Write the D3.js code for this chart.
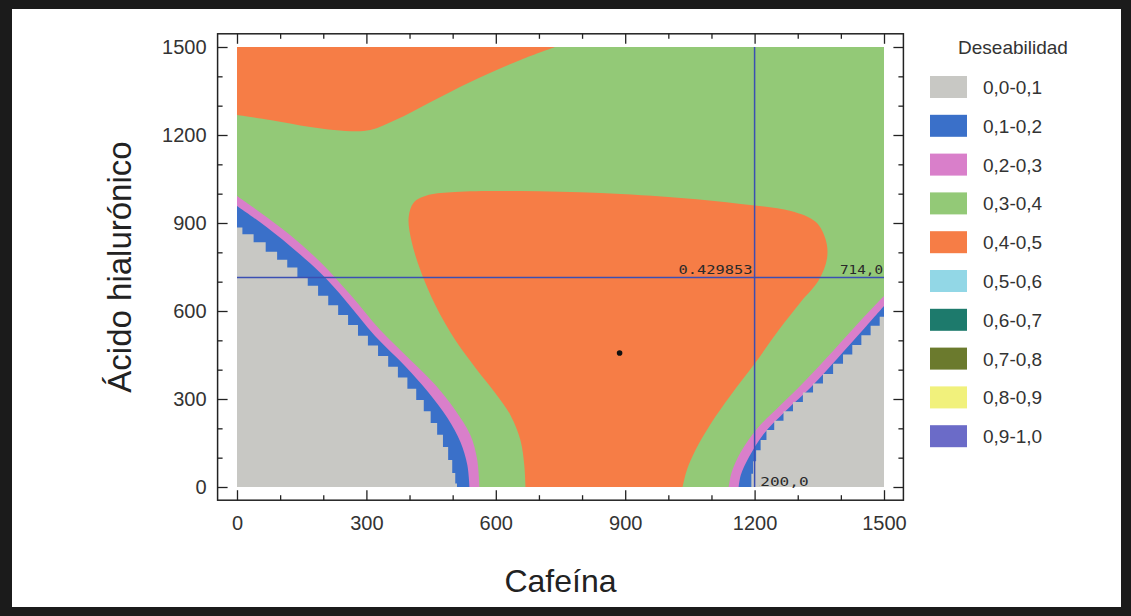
<!DOCTYPE html>
<html>
<head>
<meta charset="utf-8">
<script src="https://cdn.jsdelivr.net/npm/d3@7"></script>
<style>
  body { margin: 0; background: #fff; }
  svg { display: block; }
</style>
</head>
<body>
<div id="grafico"></div>
<script>
// legend ranges and their colours
var rangos = ["0,0-0,1", "0,1-0,2", "0,2-0,3", "0,3-0,4", "0,4-0,5",
              "0,5-0,6", "0,6-0,7", "0,7-0,8", "0,8-0,9", "0,9-1,0"];
var colores = ["#c8c8c4", "#3a70c9", "#d97fca", "#93c977", "#f67d46",
               "#92d7e6", "#1d7a6c", "#6b7a2d", "#f1f17c", "#6b6bc8"];

var ticksEje = [0, 300, 600, 900, 1200, 1500];
var ticksMenores = [100, 200, 400, 500, 700, 800, 1000, 1100, 1300, 1400];

// contour outlines, as [Cafeína, Ácido hialurónico]
var naranjaSup = [[0, 1268], [77, 1251], [170, 1227], [251, 1214], [309, 1217],
  [367, 1251], [448, 1312], [541, 1381], [657, 1456], [738, 1500]];
var naranjaSupCierre = [[0, 1500]];

var naranjaCentro = [[669, 0], [666, 75], [657, 160], [634, 245], [599, 320],
  [553, 406], [506, 501], [460, 620], [425, 740], [404, 842], [398, 920],
  [410, 970], [445, 996], [506, 1006], [657, 1009], [843, 1002], [1029, 985],
  [1168, 965], [1284, 941], [1342, 903], [1365, 842], [1368, 781], [1349, 706],
  [1307, 631], [1256, 535], [1203, 426], [1145, 314], [1098, 215], [1063, 126],
  [1043, 58], [1033, 0]];

var rosaIzq = [[0, 992], [53, 937], [123, 859], [193, 767], [263, 655], [332, 535],
  [402, 433], [460, 348], [506, 262], [541, 177], [557, 92], [562, 0]];
var azulIzq = [[0, 958], [53, 903], [123, 822], [193, 730], [251, 637], [320, 515],
  [390, 412], [443, 324], [488, 235], [518, 153], [534, 75], [539, 0]];
var grisIzq = [[0, 885], [25, 862], [52, 834], [81, 802], [105, 775], [128, 748],
  [152, 716], [176, 686], [200, 652], [223, 620], [246, 586], [269, 552],
  [292, 516], [315, 482], [339, 447], [362, 410], [384, 373], [406, 335],
  [425, 297], [441, 258], [457, 218], [471, 178], [484, 136], [495, 92],
  [503, 48], [509, 12], [511, 0]];
var esquinaIzq = [[0, 0]];

var rosaDer = [[1500, 651], [1447, 569], [1384, 467], [1319, 365], [1261, 280],
  [1207, 201], [1168, 119], [1147, 51], [1140, 0]];
var azulDer = [[1500, 617], [1451, 535], [1393, 440], [1331, 341], [1272, 259],
  [1221, 181], [1187, 102], [1168, 41], [1163, 0]];
var grisDer = [[1500, 580], [1480, 550], [1458, 517], [1437, 484], [1416, 452],
  [1394, 420], [1370, 385], [1347, 353], [1324, 322], [1300, 290], [1278, 258],
  [1256, 226], [1235, 194], [1220, 160], [1208, 125], [1199, 88], [1194, 45],
  [1191, 0]];
var esquinaDer = [[1500, 0]];

// crosshair and optimum point
var cruzX = 1200, cruzY = 714, cruzValor = "0.429853";
var puntoOptimo = [887, 457];

var width = 1131, height = 616;

var x = d3.scaleLinear().domain([0, 1500]).range([237, 884]);
var y = d3.scaleLinear().domain([0, 1500]).range([487, 47]);
var color = d3.scaleOrdinal().domain(rangos).range(colores);

var svg = d3.select("#grafico")
  .append("svg")
    .attr("width", width)
    .attr("height", height)
    .style("font-family", "'Liberation Sans', Arial, sans-serif");

// dark frame around the figure
svg.append("rect").attr("width", width).attr("height", height).attr("fill", "#1b1b1b");
svg.append("rect").attr("x", 12).attr("y", 9).attr("width", 1109).attr("height", 598).attr("fill", "#fff");

svg.append("clipPath").attr("id", "zona")
  .append("rect")
    .attr("x", x(0)).attr("y", y(1500))
    .attr("width", x(1500) - x(0)).attr("height", y(0) - y(1500));

// the 1200,0 label is hidden left of the vertical line
svg.append("clipPath").attr("id", "corte")
  .append("rect")
    .attr("x", x(cruzX) + 5).attr("y", 0)
    .attr("width", width).attr("height", height);

var capa = svg.append("g").attr("clip-path", "url(#zona)");

function region(puntos, cierre, curva) {
  var linea = d3.line()
    .x(function(d) { return x(d[0]); })
    .y(function(d) { return y(d[1]); })
    .curve(curva);
  return linea(puntos) + cierre.map(function(d) { return "L" + x(d[0]) + "," + y(d[1]); }).join("") + "Z";
}

// background band 0,3-0,4
capa.append("rect")
  .attr("x", x(0)).attr("y", y(1500))
  .attr("width", x(1500) - x(0)).attr("height", y(0) - y(1500))
  .attr("fill", color("0,3-0,4"));

var suave = d3.curveCatmullRom;
var capas = [
  [naranjaSup, naranjaSupCierre, "0,4-0,5", suave],
  [naranjaCentro, [], "0,4-0,5", suave],
  [rosaIzq, esquinaIzq, "0,2-0,3", suave],
  [azulIzq, esquinaIzq, "0,1-0,2", suave],
  [grisIzq, esquinaIzq, "0,0-0,1", d3.curveStep],
  [rosaDer, esquinaDer, "0,2-0,3", suave],
  [azulDer, esquinaDer, "0,1-0,2", suave],
  [grisDer, esquinaDer, "0,0-0,1", d3.curveStep]
];

capa.selectAll("path.contorno")
  .data(capas)
  .enter()
  .append("path")
    .attr("class", "contorno")
    .attr("d", function(d) { return region(d[0], d[1], d[3]); })
    .attr("fill", function(d) { return color(d[2]); });

// crosshair
capa.append("line")
  .attr("x1", x(0)).attr("x2", x(1500))
  .attr("y1", y(cruzY)).attr("y2", y(cruzY))
  .attr("stroke", "#3b4fb3").attr("stroke-width", 1.5);
capa.append("line")
  .attr("x1", x(cruzX)).attr("x2", x(cruzX))
  .attr("y1", y(1500)).attr("y2", y(0))
  .attr("stroke", "#3b4fb3").attr("stroke-width", 1.5);

var etiquetas = [
  { texto: cruzValor, xf: x(cruzX) - 2, yb: y(cruzY) - 4, largo: 74, corte: false },
  { texto: d3.format(".1f")(cruzY).replace(".", ","), xf: x(1500) - 1, yb: y(cruzY) - 4, largo: 43, corte: false },
  { texto: d3.format(".1f")(cruzX).replace(".", ","), xf: x(cruzX) + 54, yb: y(0) - 1, largo: 58, corte: true }
];
svg.selectAll("text.cruz")
  .data(etiquetas)
  .enter()
  .append("text")
    .attr("class", "cruz")
    .attr("x", function(d) { return d.xf; })
    .attr("y", function(d) { return d.yb; })
    .attr("clip-path", function(d) { return d.corte ? "url(#corte)" : null; })
    .attr("text-anchor", "end")
    .attr("textLength", function(d) { return d.largo; })
    .attr("lengthAdjust", "spacingAndGlyphs")
    .style("font-family", "'DejaVu Sans Mono', monospace")
    .style("font-size", "13px")
    .attr("fill", "#2a2a2a")
    .text(function(d) { return d.texto; });

// optimum point
svg.append("circle")
  .attr("cx", x(puntoOptimo[0])).attr("cy", y(puntoOptimo[1]))
  .attr("r", 2.8).attr("fill", "#111");

// axes box, 3% padding around the data
var izq = x(-45), der = x(1545), arriba = y(1545), abajo = y(-45);
svg.append("rect")
  .attr("x", izq).attr("y", arriba)
  .attr("width", der - izq).attr("height", abajo - arriba)
  .attr("fill", "none").attr("stroke", "#222").attr("stroke-width", 1.5);

function eje(gen, tx, ty, valores, largo, conTexto, relleno) {
  var g = svg.append("g")
    .attr("transform", "translate(" + tx + "," + ty + ")")
    .call(gen.tickValues(valores).tickSize(-largo).tickSizeOuter(0)
      .tickPadding(relleno || 12)
      .tickFormat(conTexto ? d3.format("d") : ""));
  g.select(".domain").remove();
  g.selectAll(".tick line").attr("stroke", "#222").attr("stroke-width", 1.3);
  g.selectAll("text").style("font-size", "20px").attr("fill", "#333");
  return g;
}

eje(d3.axisBottom(x), 0, abajo, ticksEje, 10, true, 16);
eje(d3.axisBottom(x), 0, abajo, ticksMenores, 5, false);
eje(d3.axisTop(x), 0, arriba, ticksEje, 10, false);
eje(d3.axisTop(x), 0, arriba, ticksMenores, 5, false);
eje(d3.axisLeft(y), izq, 0, ticksEje, 10, true, 11);
eje(d3.axisLeft(y), izq, 0, ticksMenores, 5, false);
eje(d3.axisRight(y), der, 0, ticksEje, 10, false);
eje(d3.axisRight(y), der, 0, ticksMenores, 5, false);

// axis titles
svg.append("text")
  .attr("x", (x(0) + x(1500)) / 2).attr("y", 592)
  .attr("text-anchor", "middle")
  .style("font-size", "32px").attr("fill", "#222")
  .text("Cafeína");

svg.append("text")
  .attr("transform", "translate(131," + (y(0) + y(1500)) / 2 + ") rotate(-90)")
  .attr("text-anchor", "middle")
  .style("font-size", "33px").attr("fill", "#222")
  .text("Ácido hialurónico");

// legend
var leyenda = svg.append("g");
leyenda.append("text")
  .attr("x", 1013).attr("y", 54)
  .attr("text-anchor", "middle")
  .style("font-size", "19px").attr("fill", "#333")
  .text("Deseabilidad");

var fila = leyenda.selectAll("g.fila")
  .data(rangos)
  .enter()
  .append("g")
    .attr("class", "fila")
    .attr("transform", function(d, i) { return "translate(0," + (87 + i * 38.8) + ")"; });

fila.append("rect")
  .attr("x", 930).attr("y", -11)
  .attr("width", 37).attr("height", 22)
  .attr("fill", function(d) { return color(d); });

fila.append("text")
  .attr("x", 983).attr("y", 7)
  .style("font-size", "19px").attr("fill", "#333")
  .text(function(d) { return d; });
</script>
</body>
</html>
